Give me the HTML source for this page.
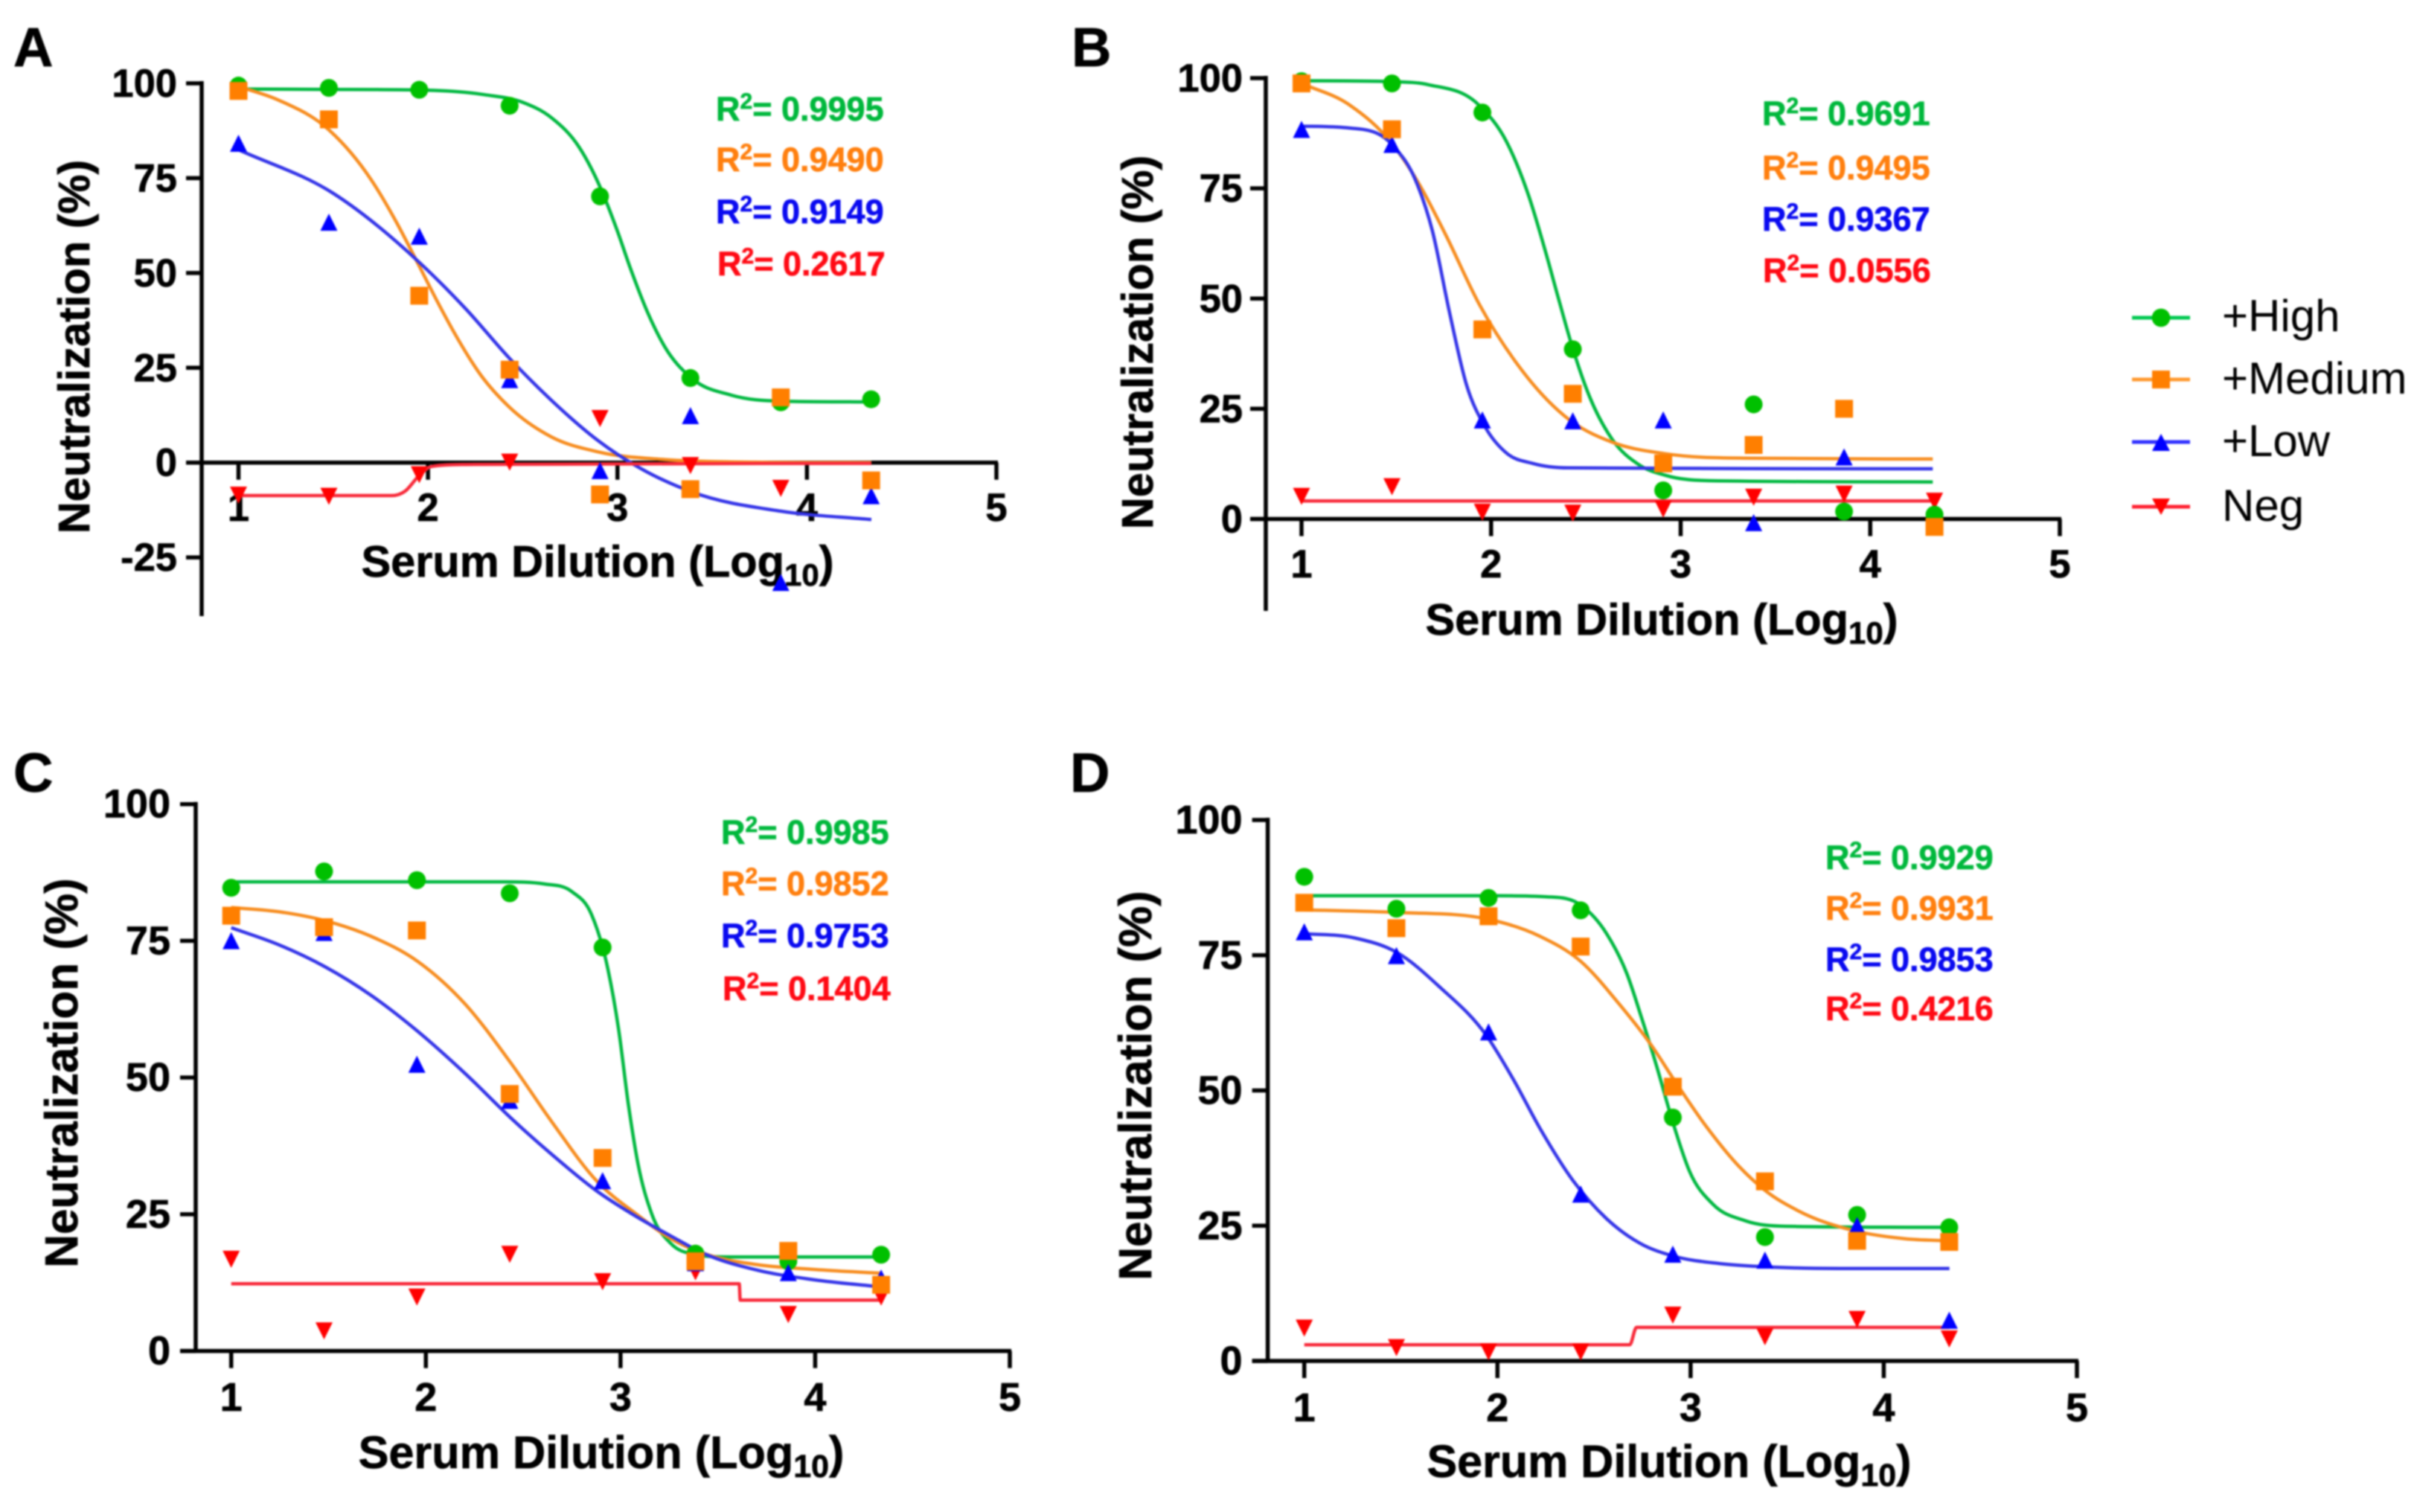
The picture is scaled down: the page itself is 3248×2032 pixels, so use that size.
<!DOCTYPE html>
<html lang="en">
<head>
<meta charset="utf-8">
<title>Serum neutralization curves</title>
<style>
html,body{margin:0;padding:0;background:#fff;width:3248px;height:2032px;overflow:hidden}
svg{display:block;filter:blur(1px)}
text{font-family:"Liberation Sans",Arial,sans-serif;font-weight:700;fill:#000;stroke:#000;stroke-width:.7px}
.r2{font-size:45px}
.ax{font-size:59.5px}
.pl{font-size:74px}
.lg{font-size:60px;font-weight:400;stroke-width:0}
.g{fill:#00b83c;stroke:#00b83c}.o{fill:#ff7f0e;stroke:#ff7f0e}.b{fill:#0a0af0;stroke:#0a0af0}.r{fill:#ff0a14;stroke:#ff0a14}
</style>
</head>
<body>
<svg id="figure" xmlns="http://www.w3.org/2000/svg" width="3248" height="2032" viewBox="0 0 3248 2032">
<rect width="3248" height="2032" fill="#fff"/>

<g id="panel-a">
<text class="pl" x="18" y="89">A</text>
<text class="ax" transform="translate(120,466) rotate(-90)" text-anchor="middle">Neutralization (%)</text>
<text class="ax" x="803" y="775" text-anchor="middle">Serum Dilution (Log<tspan font-size="42" dy="12">10</tspan><tspan dy="-12">)</tspan></text>
<text class="r2 g" x="962" y="162">R<tspan font-size="30" dy="-16">2</tspan><tspan dy="16">= 0.9995</tspan></text>
<text class="r2 o" x="962" y="230">R<tspan font-size="30" dy="-16">2</tspan><tspan dy="16">= 0.9490</tspan></text>
<text class="r2 b" x="962" y="300">R<tspan font-size="30" dy="-16">2</tspan><tspan dy="16">= 0.9149</tspan></text>
<text class="r2 r" x="964" y="370">R<tspan font-size="30" dy="-16">2</tspan><tspan dy="16">= 0.2617</tspan></text>
</g>

<g id="panel-b">
<text class="pl" x="1440" y="89">B</text>
<text class="ax" transform="translate(1549,460) rotate(-90)" text-anchor="middle">Neutralization (%)</text>
<text class="ax" x="2233" y="853" text-anchor="middle">Serum Dilution (Log<tspan font-size="42" dy="12">10</tspan><tspan dy="-12">)</tspan></text>
<text class="r2 g" x="2368" y="168">R<tspan font-size="30" dy="-16">2</tspan><tspan dy="16">= 0.9691</tspan></text>
<text class="r2 o" x="2368" y="241">R<tspan font-size="30" dy="-16">2</tspan><tspan dy="16">= 0.9495</tspan></text>
<text class="r2 b" x="2368" y="310">R<tspan font-size="30" dy="-16">2</tspan><tspan dy="16">= 0.9367</tspan></text>
<text class="r2 r" x="2369" y="379">R<tspan font-size="30" dy="-16">2</tspan><tspan dy="16">= 0.0556</tspan></text>
</g>

<g id="panel-c">
<text class="pl" x="18" y="1064">C</text>
<text class="ax" style="font-size:62px" transform="translate(104,1442) rotate(-90)" text-anchor="middle">Neutralization (%)</text>
<text class="ax" style="font-size:61.2px" x="808" y="1973" text-anchor="middle">Serum Dilution (Log<tspan font-size="43" dy="12">10</tspan><tspan dy="-12">)</tspan></text>
<text class="r2 g" x="969" y="1134">R<tspan font-size="30" dy="-16">2</tspan><tspan dy="16">= 0.9985</tspan></text>
<text class="r2 o" x="969" y="1203">R<tspan font-size="30" dy="-16">2</tspan><tspan dy="16">= 0.9852</tspan></text>
<text class="r2 b" x="969" y="1273">R<tspan font-size="30" dy="-16">2</tspan><tspan dy="16">= 0.9753</tspan></text>
<text class="r2 r" x="971" y="1344">R<tspan font-size="30" dy="-16">2</tspan><tspan dy="16">= 0.1404</tspan></text>
</g>

<g id="panel-d">
<text class="pl" x="1438" y="1064">D</text>
<text class="ax" style="font-size:62px" transform="translate(1547,1459) rotate(-90)" text-anchor="middle">Neutralization (%)</text>
<text class="ax" style="font-size:61px" x="2243" y="1985" text-anchor="middle">Serum Dilution (Log<tspan font-size="43" dy="12">10</tspan><tspan dy="-12">)</tspan></text>
<text class="r2 g" x="2453" y="1168">R<tspan font-size="30" dy="-16">2</tspan><tspan dy="16">= 0.9929</tspan></text>
<text class="r2 o" x="2453" y="1236">R<tspan font-size="30" dy="-16">2</tspan><tspan dy="16">= 0.9931</tspan></text>
<text class="r2 b" x="2453" y="1305">R<tspan font-size="30" dy="-16">2</tspan><tspan dy="16">= 0.9853</tspan></text>
<text class="r2 r" x="2453" y="1371">R<tspan font-size="30" dy="-16">2</tspan><tspan dy="16">= 0.4216</tspan></text>
</g>

<g id="legend">
<g>
<line x1="2865" y1="427" x2="2943" y2="427" stroke="#00c850" stroke-width="5"/>
<circle cx="2904" cy="427" r="12.3" fill="#00c000"/>
<text class="lg" x="2986" y="445">+High</text>
</g>
<g>
<line x1="2865" y1="510" x2="2943" y2="510" stroke="#ff9a30" stroke-width="5"/>
<rect x="2892" y="498" width="24" height="24" fill="#ff7f00"/>
<text class="lg" x="2986" y="529">+Medium</text>
</g>
<g>
<line x1="2865" y1="594" x2="2943" y2="594" stroke="#3030ff" stroke-width="5"/>
<polygon points="2904,583 2916,606 2892,606" fill="#0000ff"/>
<text class="lg" x="2986" y="613">+Low</text>
</g>
<g>
<line x1="2865" y1="681" x2="2943" y2="681" stroke="#ff2030" stroke-width="5"/>
<polygon points="2892,670 2916,670 2904,692" fill="#ff0000"/>
<text class="lg" x="2986" y="700">Neg</text>
</g>
</g>
</svg>

<script>
// Shared category values (log10 serum dilution)
const dilutions = [1, 1.477, 1.954, 2.431, 2.908, 3.385, 3.862, 4.339];
const xTickValues = [1, 2, 3, 4, 5];
const yTickValuesA = [100, 75, 50, 25, 0, -25];
const yTickValues = [100, 75, 50, 25, 0];

// Panel A measured points
const aHigh = [99.4, 98.8, 98.3, 94.1, 70.2, 22.3, 15.9, 16.7];
const aMedium = [98, 90.5, 44, 24.5, -8.4, -7, 17.2, -4.7];
const aLow = [84, 63.2, 59.5, 21.7, -2.3, 12.2, -31.8, -8.9];
const aNeg = [-8.4, -8.7, -3, 0.3, 11.8, -0.6, -6.6, -5];
// Panel A fit curves
const aHighFitX = [1, 1.5, 2, 2.3, 2.5, 2.65, 2.8, 2.91, 3, 3.07, 3.16, 3.25, 3.39, 3.6, 3.86, 4.34];
const aHighFitY = [98.5, 98.4, 98.2, 97, 95, 91, 83, 72.5, 61, 51, 39.5, 30.5, 22.3, 17.8, 16.2, 16];
const aMediumFitX = [1, 1.21, 1.48, 1.7, 1.83, 1.95, 2.05, 2.16, 2.28, 2.43, 2.65, 2.9, 3.25, 3.6, 4.34];
const aMediumFitY = [99.2, 95.6, 87.6, 74.6, 63.7, 52.2, 42.4, 32.4, 23, 14.6, 6.8, 2.8, 0.8, 0.2, 0];
const aLowFitX = [1, 1.5, 1.95, 2.2, 2.43, 2.65, 2.9, 3.11, 3.39, 3.86, 4.34];
const aLowFitY = [82.5, 71, 53, 40.5, 27.5, 16.5, 5.7, -1.2, -7.7, -12.8, -15];
const aNegFitX = [1, 1.81, 1.88, 1.95, 2.02, 2.2, 4.34];
const aNegFitY = [-8.7, -8.7, -7.5, -3.6, -1, -0.5, -0.2];

// Panel B measured points
const bHigh = [99.3, 98.8, 92.2, 38.5, 6.5, 26, 1.7, 1];
const bMedium = [98.8, 88.4, 43, 28.4, 12.6, 16.8, 25, -1.8];
const bLow = [88.2, 84.8, 22.3, 22.1, 22.3, -1, 13.9, -1.9];
const bNeg = [5.3, 7.5, 1.7, 1.5, 2.4, 5.1, 5.8, 4.2];
// Panel B fit curves
const bHighFitX = [1, 1.48, 1.67, 1.94, 2.08, 2.2, 2.29, 2.36, 2.43, 2.52, 2.64, 2.78, 2.92, 3.15, 4.33];
const bHighFitY = [99.4, 99.2, 98.5, 93.7, 85.7, 73.1, 60.2, 49.3, 38.8, 27.7, 18, 12.3, 9.9, 8.7, 8.4];
const bMediumFitX = [1, 1.25, 1.48, 1.62, 1.76, 1.94, 2.13, 2.41, 2.64, 2.92, 3.33, 4.33];
const bMediumFitY = [98.8, 94, 85, 76, 64.5, 48.5, 35.6, 22.6, 17.4, 14.8, 13.8, 13.6];
const bLowFitX = [1, 1.25, 1.48, 1.6, 1.69, 1.78, 1.87, 1.97, 2.08, 2.22, 2.41, 4.33];
const bLowFitY = [89.1, 88.7, 84.8, 77, 65.4, 47, 30.5, 20.8, 15, 12.6, 11.6, 11.4];
const bNegFitX = [1, 4.33];
const bNegFitY = [4.1, 4.1];

// Panel C measured points
const cHigh = [84.7, 87.7, 86.1, 83.7, 73.8, 17.8, 16.4, 17.6];
const cMedium = [79.6, 77.5, 76.9, 47, 35.3, 16.4, 18.3, 12.1];
const cLow = [74.9, 76.4, 52.3, 45.7, 31, 16, 14.2, 13.2];
const cNeg = [16.9, 3.8, 10, 17.8, 12.8, 14.6, 6.8, 10];
// Panel C fit curves
const cHighFitX = [1, 2.4, 2.61, 2.75, 2.85, 2.935, 2.99, 3.04, 3.09, 3.16, 3.26, 3.36, 3.57, 4.34];
const cHighFitY = [85.8, 85.8, 85.4, 84, 79.9, 69.9, 58.9, 45.2, 34.2, 25.1, 19.6, 17.8, 17.2, 17.2];
const cMediumFitX = [1, 1.25, 1.48, 1.72, 1.96, 2.2, 2.44, 2.645, 2.88, 3.09, 3.26, 3.43, 3.7, 4, 4.34];
const cMediumFitY = [81.1, 80.3, 78.7, 75.8, 71.2, 63.5, 52.5, 42, 31, 24.8, 20.5, 17.8, 15.8, 14.9, 14.2];
const cLowFitX = [1, 1.25, 1.48, 1.72, 1.96, 2.2, 2.44, 2.645, 2.88, 3.09, 3.26, 3.43, 3.7, 4, 4.34];
const cLowFitY = [77.4, 74.2, 70.3, 65, 58.4, 50.8, 42.5, 36, 29.2, 24.4, 21, 17.8, 14.8, 13, 11.7];
const cNegFitX = [1, 3.61, 3.615, 4.34];
const cNegFitY = [12.3, 12.3, 9.3, 9.3];

// Panel D measured points
const dHigh = [89.5, 83.6, 85.6, 83.3, 45, 22.9, 27, 24.7];
const dMedium = [84.7, 80, 82.2, 76.6, 50.7, 33.2, 22.2, 22];
const dLow = [79.2, 74.8, 60.7, 30.7, 19.6, 18.5, 24.9, 7.4];
const dNeg = [6.2, 2.6, 1.8, 1.8, 8.6, 4.6, 7.8, 4.2];
// Panel D fit curves
const dHighFitX = [1, 2, 2.255, 2.43, 2.565, 2.67, 2.75, 2.82, 2.91, 2.995, 3.115, 3.285, 3.49, 4.34];
const dHighFitY = [86, 86, 85.8, 84.3, 79, 71.6, 63, 55, 43.9, 35, 29, 25.9, 24.9, 24.7];
const dMediumFitX = [1, 1.48, 1.946, 2.22, 2.43, 2.63, 2.8, 2.91, 3.08, 3.25, 3.39, 3.56, 3.855, 4.11, 4.34];
const dMediumFitY = [83.4, 82.9, 81.7, 78.5, 73.9, 66, 58.2, 52.2, 43.4, 36, 31.4, 27.7, 24, 22.6, 22.2];
const dLowFitX = [1, 1.26, 1.48, 1.705, 1.946, 2.08, 2.22, 2.39, 2.565, 2.74, 2.91, 3.15, 3.39, 3.77, 4.34];
const dLowFitY = [79, 78.2, 75.5, 69, 60, 52.2, 43, 33.4, 26.3, 21.7, 19.4, 18, 17.4, 17.1, 17.1];
const dNegFitX = [1, 2.685, 2.72, 4.34];
const dNegFitY = [3, 3, 6.2, 6.2];

const NS = 'http://www.w3.org/2000/svg';
const HIGH_COLOR = '#00c000', MEDIUM_COLOR = '#ff7f00', LOW_COLOR = '#0000ff', NEG_COLOR = '#ff0000';
const HIGH_LINE = '#00b840', MEDIUM_LINE = '#f78d20', LOW_LINE = '#3434e8', NEG_LINE = '#f82a3a';

function mk(tag, attrs, parent) {
  const n = document.createElementNS(NS, tag);
  for (const k in attrs) n.setAttribute(k, attrs[k]);
  parent.appendChild(n);
  return n;
}

// Fritsch-Carlson monotone spline through the read-off fit values
function fitPath(xs, ys, sx, sy) {
  const X = xs.map(sx), Y = ys.map(sy), n = X.length;
  if (n < 3) return 'M' + X[0] + ',' + Y[0] + 'L' + X[1] + ',' + Y[1];
  const d = [], m = new Array(n);
  for (let i = 0; i < n - 1; i++) d.push((Y[i + 1] - Y[i]) / (X[i + 1] - X[i]));
  m[0] = d[0]; m[n - 1] = d[n - 2];
  for (let i = 1; i < n - 1; i++) {
    if (d[i - 1] * d[i] <= 0) { m[i] = 0; continue; }
    const h0 = X[i] - X[i - 1], h1 = X[i + 1] - X[i];
    m[i] = (d[i - 1] * h1 + d[i] * h0) / (h0 + h1);
  }
  for (let i = 0; i < n - 1; i++) {
    if (d[i] === 0) { m[i] = 0; m[i + 1] = 0; continue; }
    const a = m[i] / d[i], b = m[i + 1] / d[i], s = a * a + b * b;
    if (s > 9) { const t = 3 / Math.sqrt(s); m[i] = t * a * d[i]; m[i + 1] = t * b * d[i]; }
  }
  let p = 'M' + X[0].toFixed(1) + ',' + Y[0].toFixed(1);
  for (let i = 0; i < n - 1; i++) {
    const h = (X[i + 1] - X[i]) / 3;
    p += 'C' + (X[i] + h).toFixed(1) + ',' + (Y[i] + m[i] * h).toFixed(1) + ' ' +
      (X[i + 1] - h).toFixed(1) + ',' + (Y[i + 1] - m[i + 1] * h).toFixed(1) + ' ' +
      X[i + 1].toFixed(1) + ',' + Y[i + 1].toFixed(1);
  }
  return p;
}

function drawAxes(root, key, g, sx, sy, ticksY) {
  const yAxis = mk('line', {x1: g.axisX, y1: sy(100) - 3, x2: g.axisX, y2: g.axisBottom, stroke: '#000', 'stroke-width': 5.5}, root);
  
  
  const xAxis = mk('line', {x1: g.axisX - 21, y1: sy(0), x2: sx(5) + 2, y2: sy(0), stroke: '#000', 'stroke-width': 5.5}, root);
  
  
  ticksY.forEach(function (v) {
    const t = mk('line', {x1: g.axisX - 21, y1: sy(v), x2: g.axisX, y2: sy(v), stroke: '#000', 'stroke-width': 5.5}, root);
    
    
    const l = mk('text', {x: g.axisX - g.tickGap, y: sy(v) + 18, 'text-anchor': 'end', 'font-size': g.tickFont}, root);
    l.textContent = String(v);
    
    
  });
  xTickValues.forEach(function (v) {
    const t = mk('line', {x1: sx(v), y1: sy(0), x2: sx(v), y2: sy(0) + 23, stroke: '#000', 'stroke-width': 5.5}, root);
    
    
    const l = mk('text', {x: sx(v), y: g.tickBaseline, 'text-anchor': 'middle', 'font-size': g.tickFont}, root);
    l.textContent = String(v);
    
    
  });
}

function drawFit(root, xs, ys, sx, sy, color, name) {
  const p = mk('path', {d: fitPath(xs, ys, sx, sy), fill: 'none', stroke: color, 'stroke-width': 4.5}, root);
  
  
}

function drawCircles(root, vals, sx, sy) {
  vals.forEach(function (v, i) {
    const c = mk('ellipse', {cx: sx(dilutions[i]), cy: sy(v), rx: 12, ry: 12, fill: HIGH_COLOR}, root);
    
    
  });
}
function drawSquares(root, vals, sx, sy) {
  vals.forEach(function (v, i) {
    const c = mk('rect', {x: sx(dilutions[i]) - 12, y: sy(v) - 12, width: 24, height: 24, fill: MEDIUM_COLOR}, root);
    
    
  });
}
function drawUp(root, vals, sx, sy) {
  vals.forEach(function (v, i) {
    const x = sx(dilutions[i]), y = sy(v);
    const c = mk('polygon', {points: x + ',' + (y - 12.5) + ' ' + (x + 11.5) + ',' + (y + 10.5) + ' ' + (x - 11.5) + ',' + (y + 10.5), fill: LOW_COLOR}, root);
    
    
  });
}
function drawDown(root, vals, sx, sy) {
  vals.forEach(function (v, i) {
    const x = sx(dilutions[i]), y = sy(v);
    const c = mk('polygon', {points: (x - 11.5) + ',' + (y - 10.5) + ' ' + (x + 11.5) + ',' + (y - 10.5) + ' ' + x + ',' + (y + 12.5), fill: NEG_COLOR}, root);
    
    
  });
}

function drawPanel(id, g, ticksY, s) {
  const root = document.getElementById(id);
  const sx = function (v) { return g.x1 + (v - 1) * (g.x5 - g.x1) / 4; };
  const sy = function (v) { return g.y0 - v * (g.y0 - g.y100) / 100; };
  drawAxes(root, id, g, sx, sy, ticksY);
  drawFit(root, s.highX, s.highY, sx, sy, HIGH_LINE, 'fit-curve-high');
  drawFit(root, s.medX, s.medY, sx, sy, MEDIUM_LINE, 'fit-curve-medium');
  drawFit(root, s.lowX, s.lowY, sx, sy, LOW_LINE, 'fit-curve-low');
  drawFit(root, s.negX, s.negY, sx, sy, NEG_LINE, 'fit-curve-neg');
  drawDown(root, s.neg, sx, sy);
  drawCircles(root, s.high, sx, sy);
  drawUp(root, s.low, sx, sy);
  drawSquares(root, s.med, sx, sy);
}

drawPanel('panel-a', {axisX: 271, axisBottom: 828, x1: 320.5, x5: 1339, y100: 112, y0: 621.7, tickBaseline: 700, tickFont: 52.5, tickGap: 33}, yTickValuesA,
  {high: aHigh, med: aMedium, low: aLow, neg: aNeg,
   highX: aHighFitX, highY: aHighFitY, medX: aMediumFitX, medY: aMediumFitY,
   lowX: aLowFitX, lowY: aLowFitY, negX: aNegFitX, negY: aNegFitY});
drawPanel('panel-b', {axisX: 1701, axisBottom: 821, x1: 1749, x5: 2768, y100: 105, y0: 697.5, tickBaseline: 776, tickFont: 52.5, tickGap: 31}, yTickValues,
  {high: bHigh, med: bMedium, low: bLow, neg: bNeg,
   highX: bHighFitX, highY: bHighFitY, medX: bMediumFitX, medY: bMediumFitY,
   lowX: bLowFitX, lowY: bLowFitY, negX: bNegFitX, negY: bNegFitY});
drawPanel('panel-c', {axisX: 263, axisBottom: 1815.6, x1: 310.7, x5: 1357, y100: 1080.7, y0: 1815.6, tickBaseline: 1896, tickFont: 54, tickGap: 34}, yTickValues,
  {high: cHigh, med: cMedium, low: cLow, neg: cNeg,
   highX: cHighFitX, highY: cHighFitY, medX: cMediumFitX, medY: cMediumFitY,
   lowX: cLowFitX, lowY: cLowFitY, negX: cNegFitX, negY: cNegFitY});
drawPanel('panel-d', {axisX: 1703.6, axisBottom: 1829, x1: 1752.7, x5: 2791, y100: 1102, y0: 1829, tickBaseline: 1910, tickFont: 54, tickGap: 34}, yTickValues,
  {high: dHigh, med: dMedium, low: dLow, neg: dNeg,
   highX: dHighFitX, highY: dHighFitY, medX: dMediumFitX, medY: dMediumFitY,
   lowX: dLowFitX, lowY: dLowFitY, negX: dNegFitX, negY: dNegFitY});
</script>
</body>
</html>
